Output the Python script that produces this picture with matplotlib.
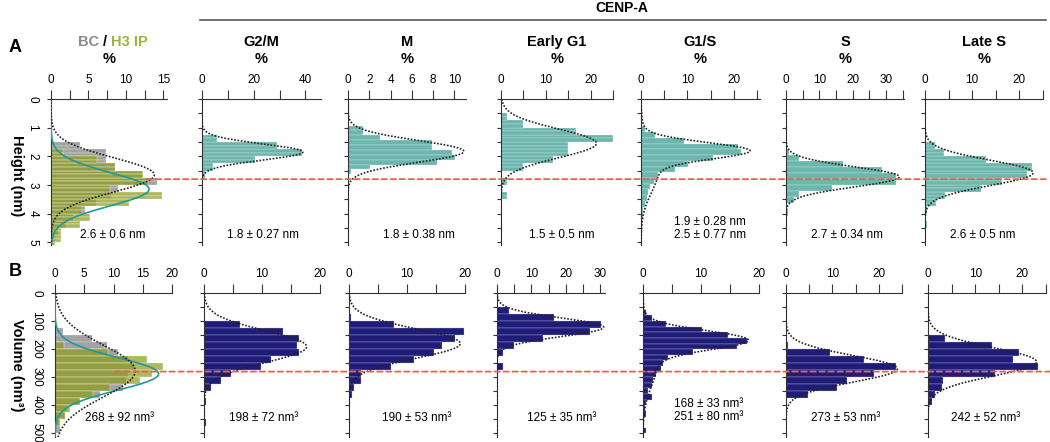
import numpy as np
import matplotlib.pyplot as plt
from matplotlib.patches import ConnectionPatch
from matplotlib.lines import Line2D
from matplotlib import transforms

plt.rcParams['font.family'] = ['Liberation Sans', 'DejaVu Sans']

# ---- data ---------------------------------------------------------------
PHASES = ['G2/M', 'M', 'Early G1', 'G1/S', 'S', 'Late S']

# row A: height (nm), % per bin
A_BC_START, A_BC_BINW = 1.5, 0.25
A_BC = [3.9, 7.3, 7.3, 8.5, 12.1, 14.1, 9.0, 8.0, 6.0, 4.5, 3.0, 2.0, 1.0, 0.5]
A_H3_START, A_H3_BINW = 1.75, 0.25
A_H3 = [1.6, 6.1, 8.5, 12.3, 12.9, 7.9, 14.8, 10.4, 4.1, 5.2, 3.9, 1.3, 1.3, 0.5]

A_CENPA_START = [1.25, 0.93, 0.5, 0.96, 1.76, 1.5]
A_CENPA_BINW = [0.25, 0.17, 0.25, 0.2, 0.21, 0.25]
A_CENPA = [
    [5.9, 29, 38.5, 20.4, 4.3, 1.2],
    [1.4, 1.4, 3.0, 7.9, 7.9, 9.8, 10.1, 8.4, 2.1, 0.3],
    [1.4, 5, 16.7, 25, 15, 15, 11.6, 5, 0, 1.4, 0, 1.4],
    [0.9, 3.0, 9.2, 20.9, 21.6, 15.4, 10.2, 7.3, 3.7, 2.7, 1.9, 1.6, 1.2, 0.9, 0.5, 0.4],
    [1.0, 4.0, 17, 28.7, 33, 33, 13.7, 4.0, 2.5, 0, 0.6],
    [2.1, 4.0, 13, 22.7, 21.6, 16.3, 12, 4.3, 2.3, 0.4, 0, 0.5],
]

# row B: volume (nm^3), % per bin
B_BC_START, B_BC_BINW = 125, 25
B_BC = [1.4, 6.3, 8.9, 10.7, 12.4, 13.5, 12.5, 12.2, 11.7, 7.7, 4.3, 2.0, 1.7, 0.6, 0.9]
B_H3_START, B_H3_BINW = 175, 25
B_H3 = [1.5, 9.0, 15.7, 18.5, 16.5, 14.5, 9.4, 6.5, 4.3, 2.6, 1.7, 0.8]

B_CENPA_START = [100, 75, 50, 60, 175, 150]
B_CENPA_BINW = [25, 25, 25, 20, 25, 25]
B_CENPA = [
    [6.2, 13.7, 16.4, 16.0, 16.4, 11.5, 9.8, 4.7, 2.9, 1.2, 0, 0.3, 0, 0, 0.3],
    [0.4, 7.7, 19.9, 18.2, 16.0, 14.7, 11.2, 7.2, 2.1, 2.0, 0.9, 0.5],
    [3.5, 16.7, 30.3, 26.9, 13.5, 4.9, 1.7, 0, 1.7],
    [0.6, 1.6, 4.0, 10.2, 14.6, 18.0, 16.2, 8.7, 4.3, 3.4, 3.1, 2.3, 1.8, 1.6,
     0.9, 1.6, 0.6, 0.3, 0.6, 0, 0, 0.6],
    [0.5, 9.4, 16.9, 23.7, 18.9, 13.1, 11.0, 4.8, 0.3],
    [3.5, 13.5, 19.2, 18.1, 23.2, 14.1, 3.2, 3.0, 1.4, 0.8],
]

# gaussian fits (mean, sd, peak %)
A_BC_FIT = [(2.65, 0.6, 13.8)]
A_H3_FIT = [(3.15, 0.58, 13.1)]
A_CENPA_FIT = [[(1.85, 0.28, 39)], [(1.83, 0.38, 10.9)], [(1.55, 0.5, 21.3)],
               [(1.8, 0.28, 21), (2.5, 0.77, 3.7)], [(2.72, 0.35, 34)], [(2.58, 0.44, 23)]]
B_BC_FIT = [(278, 92, 13.7)]
B_H3_FIT = [(288, 58, 17.7)]
B_CENPA_FIT = [[(191, 56, 17.7)], [(180, 52, 19.2)], [(122, 33, 31)],
               [(167, 33, 16.8), (251, 80, 2.4)], [(270, 47, 24)], [(245, 50, 23)]]

A_TEXT = ['2.6 ± 0.6 nm', '1.8 ± 0.27 nm', '1.8 ± 0.38 nm', '1.5 ± 0.5 nm',
          '1.9 ± 0.28 nm\n2.5 ± 0.77 nm', '2.7 ± 0.34 nm', '2.6 ± 0.5 nm']
B_TEXT = ['268 ± 92 nm³', '198 ± 72 nm³', '190 ± 53 nm³', '125 ± 35 nm³',
          '168 ± 33 nm³\n251 ± 80 nm³', '273 ± 53 nm³', '242 ± 52 nm³']

REF_HEIGHT = 2.8
REF_VOLUME = 280

# ---- layout -------------------------------------------------------------
W, H = 1050, 442
A_LEFT = [51, 202, 348, 501, 641, 786, 925]
A_WIDTH = [116, 119, 118, 112, 119, 118, 118]
A_XMAX = [15.5, 46, 11.1, 25, 25.6, 35.4, 25.1]
A_XTICK = [(2.5, 5), (10, 20), (2, 2), (5, 10), (5, 10), (5, 10), (5, 10)]
A_TXT_X = [0.53, 0.51, 0.6, 0.54, 0.58, 0.52, 0.49]
B_LEFT = [55, 204, 349, 497, 643, 786, 928]
B_WIDTH = [117, 116, 116, 108, 116, 116, 118]
B_XMAX = [20, 20, 20, 31.4, 20, 25, 25]
B_XTICK = [(5, 5), (5, 10), (5, 10), (5, 10), (5, 10), (5, 10), (5, 10)]
B_TXT_X = [0.55, 0.51, 0.58, 0.6, 0.57, 0.51, 0.49]

TEAL_BAR = '#6db6ae'
NAVY = '#1f1d78'
GRAY = '#a3a3a3'
OLIVE = '#8e9c1c'
TEAL_LINE = '#1f9a9a'
RED = '#e4644e'
AX_COL = '#333333'

fig = plt.figure(figsize=(W / 100, H / 100), dpi=100)


def add_ax(left, top, width, height):
    return fig.add_axes([left / W, 1 - (top + height) / H, width / W, height / H])


def bars(ax, start, binw, vals, color, split=False, edge=(1, 1, 1, 0.55), **kw):
    vals = np.asarray(vals, dtype=float)
    ys = start + binw * np.arange(len(vals))
    h = binw
    if split:
        ys = np.concatenate([ys, ys + binw / 2])
        vals = np.concatenate([vals, vals])
        h = binw / 2
    ax.barh(ys, vals, height=h, align='edge', color=color,
            edgecolor=edge, linewidth=0.3, **kw)


def fit(ax, params, ymax, **kw):
    y = np.linspace(0, ymax, 500)
    x = np.zeros_like(y)
    for mu, sd, amp in params:
        x += amp * np.exp(-0.5 * ((y - mu) / sd) ** 2)
    ax.plot(x, y, **kw)


def style(ax, xmax, xt, ymax, ystep, ylabels):
    ax.set_xlim(0, xmax)
    ax.set_ylim(ymax, 0)
    for s in ['right', 'bottom']:
        ax.spines[s].set_visible(False)
    for s in ['top', 'left']:
        ax.spines[s].set_color(AX_COL)
        ax.spines[s].set_linewidth(0.8)
    minor, major = xt
    ticks = np.arange(0, xmax + 1e-6, minor)
    labs = ['%g' % t if abs(t / major - round(t / major)) < 1e-6 else '' for t in ticks]
    ax.xaxis.set_ticks_position('top')
    ax.set_xticks(ticks)
    ax.set_xticklabels(labs)
    ax.tick_params(axis='x', direction='out', length=6.5, width=0.8, pad=3,
                   labelsize=8.5, colors=AX_COL, labelcolor='black')
    yt = np.arange(0, ymax + 1e-6, ystep)
    ax.set_yticks(yt)
    if ylabels:
        ax.set_yticklabels(['%g' % t for t in yt], rotation=-90, va='center')
        ax.tick_params(axis='y', length=3, width=0.8, pad=6, labelsize=8.5,
                       colors=AX_COL, labelcolor='black')
    else:
        ax.set_yticklabels([])
        ax.tick_params(axis='y', length=3, width=0.8, colors=AX_COL)


dot = dict(color='#222222', linestyle=(0, (1, 1)), linewidth=1.2, zorder=4)

# ---- row A --------------------------------------------------------------
A_YMAX = 5.1
axA = []
for i in range(7):
    ax = add_ax(A_LEFT[i], 99, A_WIDTH[i], 146)
    axA.append(ax)
    if i == 0:
        bars(ax, A_BC_START, A_BC_BINW, A_BC, GRAY, split=True)
        bars(ax, A_H3_START, A_H3_BINW, A_H3, OLIVE, split=True, alpha=0.72)
        fit(ax, A_H3_FIT, A_YMAX, color=TEAL_LINE, linewidth=1.2, zorder=4)
        fit(ax, A_BC_FIT, A_YMAX, **dot)
    else:
        bw = A_CENPA_BINW[i - 1]
        bars(ax, A_CENPA_START[i - 1], bw, A_CENPA[i - 1], TEAL_BAR, split=bw >= 0.25)
        fit(ax, A_CENPA_FIT[i - 1], A_YMAX, **dot)
    style(ax, A_XMAX[i], A_XTICK[i], A_YMAX, 1 if i == 0 else 0.5, i == 0)
    nl = A_TEXT[i].count('\n')
    ax.text(A_TXT_X[i], 0.07 + 0.045 * nl, A_TEXT[i], transform=ax.transAxes,
            ha='center', va='center', fontsize=8.5, linespacing=1.15)
    if i > 0:
        ax.text(0.5, 1.393, PHASES[i - 1], transform=ax.transAxes, ha='center',
                va='center', fontsize=10.5, fontweight='bold')
    ax.text(0.5, 1.276, '%', transform=ax.transAxes, ha='center', va='center',
            fontsize=10.5, fontweight='bold')

# composite title of the first panel
ax0 = axA[0]
ax0.text(0.466, 1.393, '/', transform=ax0.transAxes, ha='center', va='center',
         fontsize=10.5, fontweight='bold')
ax0.text(0.466, 1.393, 'BC', ha='right', va='center', fontsize=10.5, fontweight='bold',
         color='#8a8a8a',
         transform=transforms.offset_copy(ax0.transAxes, fig=fig, x=-4, units='points'))
ax0.text(0.466, 1.393, 'H3 IP', ha='left', va='center', fontsize=10.5, fontweight='bold',
         color='#9ab43c',
         transform=transforms.offset_copy(ax0.transAxes, fig=fig, x=4, units='points'))

# ---- row B --------------------------------------------------------------
B_YMAX = 513
axB = []
for i in range(7):
    ax = add_ax(B_LEFT[i], 293, B_WIDTH[i], 144)
    axB.append(ax)
    if i == 0:
        bars(ax, B_BC_START, B_BC_BINW, B_BC, GRAY)
        bars(ax, B_H3_START, B_H3_BINW, B_H3, OLIVE, alpha=0.72)
        fit(ax, B_H3_FIT, B_YMAX, color=TEAL_LINE, linewidth=1.2, zorder=4)
        fit(ax, B_BC_FIT, B_YMAX, **dot)
    else:
        bars(ax, B_CENPA_START[i - 1], B_CENPA_BINW[i - 1], B_CENPA[i - 1], NAVY,
             edge=(0.75, 0.75, 0.9, 0.8))
        fit(ax, B_CENPA_FIT[i - 1], B_YMAX, **dot)
    style(ax, B_XMAX[i], B_XTICK[i], B_YMAX, 100 if i == 0 else 50, i == 0)
    nl = B_TEXT[i].count('\n')
    ax.text(B_TXT_X[i], 0.132 + 0.05 * nl, B_TEXT[i], transform=ax.transAxes,
            ha='center', va='center', fontsize=8.5, linespacing=1.15)

# ---- reference lines ----------------------------------------------------
for axs, ref, x0 in [(axA, REF_HEIGHT, 12.8), (axB, REF_VOLUME, 10.3)]:
    con = ConnectionPatch(xyA=(x0, ref), coordsA='data', axesA=axs[0],
                          xyB=(1.04, ref), coordsB=axs[-1].get_yaxis_transform(),
                          axesB=axs[-1], color=RED, linestyle=(0, (3, 2)),
                          linewidth=1.3, zorder=10)
    fig.add_artist(con)

# ---- figure labels ------------------------------------------------------
fig.text(9 / W, 1 - 48 / H, 'A', fontsize=13, fontweight='bold', ha='left', va='center')
fig.text(9 / W, 1 - 272 / H, 'B', fontsize=13, fontweight='bold', ha='left', va='center')
fig.text(17 / W, 1 - 176 / H, 'Height (nm)', rotation=-90, fontsize=10.5,
         fontweight='bold', ha='center', va='center')
fig.text(17 / W, 1 - 365 / H, 'Volume (nm³)', rotation=-90, fontsize=10.5,
         fontweight='bold', ha='center', va='center')
fig.text(622 / W, 1 - 8 / H, 'CENP-A', fontsize=10, fontweight='bold',
         ha='center', va='center')
fig.add_artist(Line2D([200 / W, 1046 / W], [1 - 20 / H, 1 - 20 / H],
                      transform=fig.transFigure, color='#555555', linewidth=1.2))

fig.savefig('out.png', dpi=100)
